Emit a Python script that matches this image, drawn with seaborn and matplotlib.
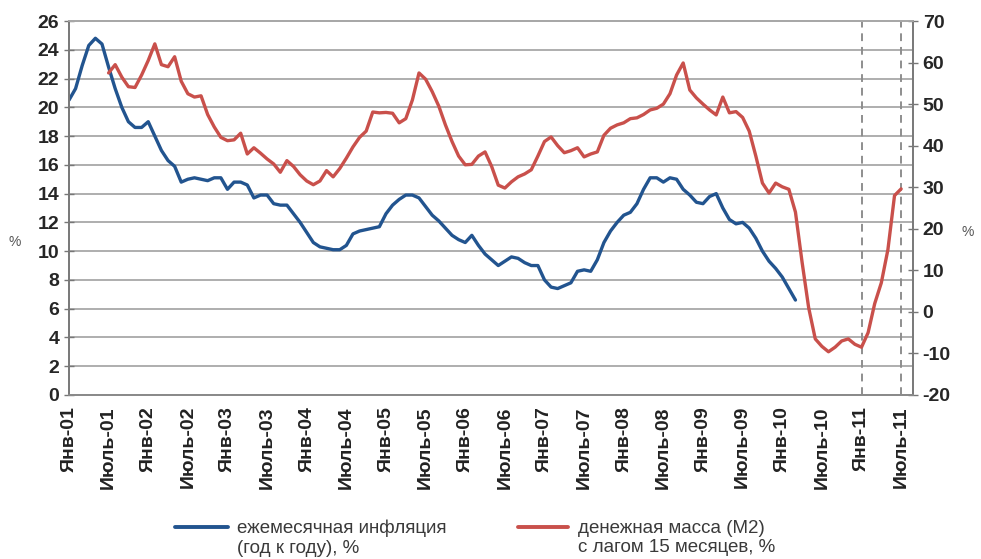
import numpy as np
import pandas as pd
import matplotlib.pyplot as plt
import seaborn as sns
from matplotlib.lines import Line2D

sns.set_style("white")
plt.rcParams['font.family'] = ['Liberation Sans', 'DejaVu Sans']
plt.rcParams['axes.unicode_minus'] = False

# Инфляция (год к году), %, помесячно с янв-01 по мар-10
inflation = [20.5, 21.3, 22.9, 24.3, 24.8, 24.4, 22.8, 21.3, 20.0, 19.0,
             18.6, 18.6, 19.0, 18.0, 17.0, 16.3, 15.9, 14.8, 15.0, 15.1,
             15.0, 14.9, 15.1, 15.1, 14.3, 14.8, 14.8, 14.6, 13.7, 13.9,
             13.9, 13.3, 13.2, 13.2, 12.6, 12.0, 11.3, 10.6, 10.3, 10.2,
             10.1, 10.1, 10.4, 11.2, 11.4, 11.5, 11.6, 11.7, 12.6, 13.2,
             13.6, 13.9, 13.9, 13.7, 13.1, 12.5, 12.1, 11.6, 11.1, 10.8,
             10.6, 11.1, 10.4, 9.8, 9.4, 9.0, 9.3, 9.6, 9.5, 9.2,
             9.0, 9.0, 8.0, 7.5, 7.4, 7.6, 7.8, 8.6, 8.7, 8.6,
             9.4, 10.6, 11.4, 12.0, 12.5, 12.7, 13.3, 14.3, 15.1, 15.1,
             14.8, 15.1, 15.0, 14.3, 13.9, 13.4, 13.3, 13.8, 14.0, 13.0,
             12.2, 11.9, 12.0, 11.6, 10.9, 10.0, 9.3, 8.8, 8.2, 7.4,
             6.6]

# Денежная масса М2 с лагом 15 мес., %, с июля-01 по июль-11
m2_lagged = [57.5, 59.5, 56.5, 54.2, 54.0, 57.0, 60.5, 64.5, 59.5, 59.0,
             61.4, 55.5, 52.5, 51.7, 52.0, 47.5, 44.5, 42.0, 41.2, 41.4,
             43.0, 38.0, 39.5, 38.2, 36.8, 35.6, 33.6, 36.4, 35.0, 33.0,
             31.5, 30.6, 31.5, 34.0, 32.5, 34.5, 37.0, 39.7, 42.0, 43.5,
             48.1, 47.9, 48.0, 47.8, 45.5, 46.5, 51.0, 57.5, 56.0, 53.0,
             49.5, 45.0, 41.0, 37.5, 35.4, 35.5, 37.5, 38.5, 35.0, 30.5,
             29.8, 31.3, 32.5, 33.2, 34.2, 37.5, 41.0, 42.1, 40.0, 38.3,
             38.8, 39.5, 37.3, 38.0, 38.5, 42.5, 44.2, 45.0, 45.5, 46.5,
             46.7, 47.5, 48.6, 49.0, 50.0, 52.5, 57.0, 59.9, 53.4, 51.5,
             50.0, 48.6, 47.4, 51.7, 47.9, 48.2, 46.8, 43.5, 37.5, 31.0,
             28.6, 31.0, 30.1, 29.5, 24.0, 12.0, 1.0, -6.5, -8.3, -9.6,
             -8.5, -7.0, -6.5, -7.8, -8.5, -5.0, 2.0, 7.0, 15.0, 28.0,
             29.6]

tick_labels = ['Янв-01', 'Июль-01', 'Янв-02', 'Июль-02', 'Янв-03', 'Июль-03',
               'Янв-04', 'Июль-04', 'Янв-05', 'Июль-05', 'Янв-06', 'Июль-06',
               'Янв-07', 'Июль-07', 'Янв-08', 'Июль-08', 'Янв-09', 'Июль-09',
               'Янв-10', 'Июль-10', 'Янв-11', 'Июль-11']

label_infl = 'ежемесячная инфляция\n(год к году), %'
label_m2 = 'денежная масса (М2)\nс лагом 15 месяцев, %'

# индекс месяца от янв-01
df_infl = pd.DataFrame({'month': np.arange(len(inflation)), 'value': inflation})
df_m2 = pd.DataFrame({'month': np.arange(len(m2_lagged)) + 6, 'value': m2_lagged})

blue = '#22548f'
red = '#c9504b'

fig, ax = plt.subplots(figsize=(9.81, 5.59), dpi=100)
fig.subplots_adjust(left=0.0703, right=0.9307, top=0.9624, bottom=0.2934)

sns.lineplot(data=df_infl, x='month', y='value', ax=ax, color=blue, lw=2.4)
ax.set_xlim(0, 127.8)
ax.set_ylim(0, 26)
ax.set_yticks(range(0, 27, 2))
ax.yaxis.grid(True, color='#a8a8a8', lw=1.3)
ax.set_axisbelow(True)
ax.set_xticks(range(0, 127, 6))
ax.set_xticklabels(tick_labels, rotation=90, fontweight='bold', fontsize=14, color='#222222')
ax.tick_params(axis='y', labelsize=14, direction='inout', length=7, color='#777777', width=1)
for lbl in ax.get_yticklabels():
    lbl.set_fontweight('bold')
ax.tick_params(axis='x', direction='inout', length=8, color='#777777', width=1, pad=4)
ax.set_xlabel('')
ax.set_ylabel('')

for x in (120, 126):
    ax.axvline(x, color='#8e8e8e', lw=1.4, ls=(0, (4, 3)), zorder=1)

ax2 = ax.twinx()
sns.lineplot(data=df_m2, x='month', y='value', ax=ax2, color=red, lw=2.4)
ax2.set_ylim(-20, 70)
ax2.set_yticks(range(-20, 71, 10))
ax2.tick_params(axis='y', labelsize=14, direction='inout', length=7, color='#777777', width=1)
for lbl in ax2.get_yticklabels():
    lbl.set_fontweight('bold')
ax2.set_ylabel('')
ax2.grid(False)

for a in (ax, ax2):
    a.spines['left'].set_color('#7a7a7a')
    a.spines['right'].set_color('#7a7a7a')
    a.spines['top'].set_color('#a8a8a8')
    a.spines['bottom'].set_color('#8a8a8a')
    for s in a.spines.values():
        s.set_linewidth(1.3)

fig.text(15 / 981, 1 - 242 / 559, '%', fontsize=10, color='#555555', ha='center', va='center')
fig.text(968 / 981, 1 - 232 / 559, '%', fontsize=10, color='#555555', ha='center', va='center')

# легенда внизу
W, H = 981, 559
for x0, x1, col, tx, txt in [(175, 228, blue, 237, label_infl), (518, 568, red, 578, label_m2)]:
    fig.add_artist(Line2D([x0 / W, x1 / W], [1 - 527 / H, 1 - 527 / H], color=col, lw=2.8,
                          transform=fig.transFigure))
    fig.text(tx / W, 1 - 538 / H, txt, fontsize=13.5, color='#3a3a3a', ha='left', va='center',
             linespacing=1.2)

plt.savefig('out.png', dpi=100)
plt.close()
